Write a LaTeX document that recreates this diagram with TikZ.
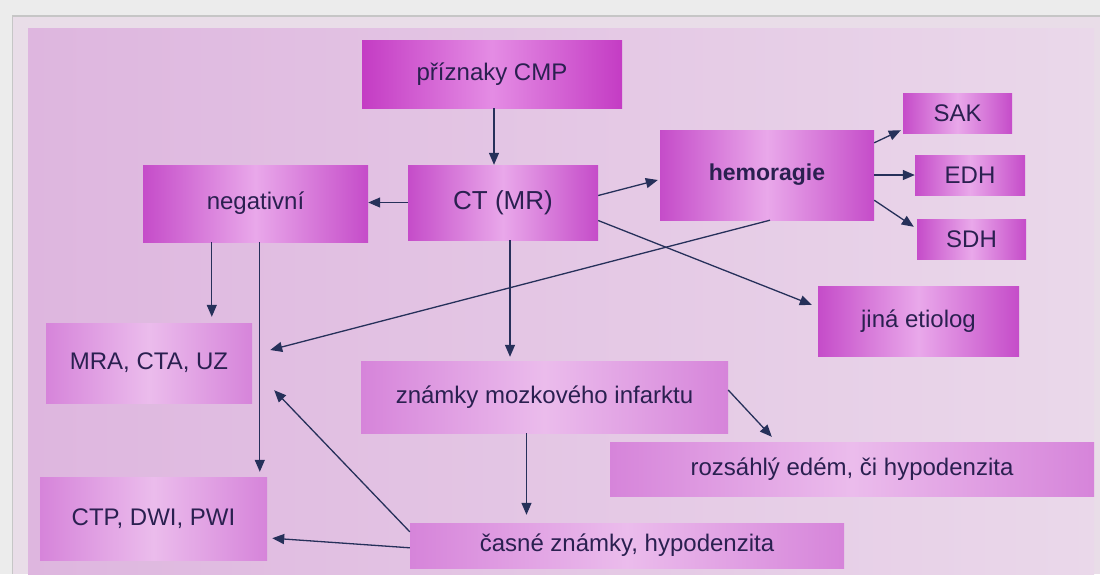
\documentclass[tikz,border=0pt]{standalone}
\usepackage{fontspec}
\setmainfont{Liberation Sans}
\usetikzlibrary{arrows.meta,calc}
\definecolor{txt}{HTML}{2A2050}
\definecolor{arr}{HTML}{26305A}
\definecolor{bdark}{HTML}{C54CC9}
\definecolor{blight}{HTML}{E9A8EA}
\definecolor{pdark}{HTML}{D684DA}
\definecolor{plight}{HTML}{EBBCEC}
\definecolor{cdark}{HTML}{C43CC4}
\definecolor{clight}{HTML}{E48CE4}
\definecolor{scr}{HTML}{E9DDE8}
\definecolor{bgl}{HTML}{DEB6DF}
\definecolor{bgr}{HTML}{EAD8EA}
\tikzset{
  box/.style={draw=none, rectangle, inner sep=0pt, text=txt,
    left color=bdark, right color=bdark, middle color=blight,
    font=\fontsize{24}{28}\selectfont},
  palebox/.style={box, left color=pdark, right color=pdark, middle color=plight},
  conn/.style={draw=arr, line width=1.3pt, -{Triangle[length=12pt,width=10pt]}},
}
\begin{document}
\begin{tikzpicture}[x=1pt,y=-1pt]
\useasboundingbox (0,0) rectangle (1100,574);
\fill[gray!15] (0,0) rectangle (1100,574);
\fill[gray!45] (12,15) rectangle (1100,574);
\fill[scr] (13,17) rectangle (1100,574);
\shade[left color=bgl, right color=bgr] (28,28) rectangle (1094,574);

\node[box, minimum width=260, minimum height=68, left color=cdark, right color=cdark, middle color=clight] (cmp) at (492,74) {příznaky CMP};
\node[box, minimum width=190, minimum height=75, font=\fontsize{26}{30}\selectfont] (ct) at (503,202.5) {CT (MR)};
\node[box, minimum width=225, minimum height=77] (neg) at (255.5,203.5) {negativní};
\node[box, minimum width=214, minimum height=90, font=\fontsize{23}{28}\selectfont\bfseries] (hem) at (767,175) {hemoragie};
\node[box, minimum width=109, minimum height=40] (sak) at (957.5,113) {SAK};
\node[box, minimum width=110, minimum height=40] (edh) at (970,175) {EDH};
\node[box, minimum width=109, minimum height=40] (sdh) at (971.5,239) {SDH};
\node[box, minimum width=201, minimum height=70] (jina) at (918.5,321) {jiná etiolog};
\node[palebox, minimum width=206, minimum height=80] (mra) at (149,363) {MRA, CTA, UZ};
\node[palebox, minimum width=227, minimum height=83] (ctp) at (153.5,518.5) {CTP, DWI, PWI};
\node[palebox, minimum width=367, minimum height=72] (znam) at (544.5,397) {známky mozkového infarktu};
\node[palebox, minimum width=484, minimum height=54] (roz) at (852,469) {rozsáhlý edém, či hypodenzita};
\node[palebox, minimum width=434, minimum height=45] (cas) at (627,545.5) {časné známky, hypodenzita};

\coordinate (cmpS) at ($(cmp.south)+(2,0)$);
\coordinate (negA) at ($(neg.south west)+(69,0)$);
\coordinate (negB) at ($(neg.south west)+(117,0)$);
\coordinate (ctS) at ($(ct.south)+(7,0)$);
\coordinate (znS) at ($(znam.south)+(-18,0)$);

\draw[conn] (cmpS) -- (cmpS |- ct.north);
\draw[conn] (ct.west) -- (ct.west -| neg.east);
\draw[conn] ($(ct.east)+(0,-7)$) -- ($(hem.west)+(-2,5)$);
\draw[conn] ($(hem.north east)+(0,13)$) -- ($(sak.south west)+(-2,-3)$);
\draw[conn] (hem.east) -- (edh.west);
\draw[conn] ($(hem.south east)+(0,-20)$) -- ($(sdh.north west)+(-3,8)$);
\draw[conn] ($(ct.east)+(0,18)$) -- ($(jina.north west)+(-6,19)$);
\draw[conn] ($(hem.south)+(3,0)$) -- ($(mra.east)+(18,-13)$);
\draw[conn, shorten >=6pt] (negA) -- (negA |- mra.north);
\draw[conn, shorten >=5pt] (negB) -- (negB |- ctp.north);
\draw[conn, shorten >=4pt] (ctS) -- (ctS |- znam.north);
\draw[conn] ($(znam.east)+(0,-7)$) -- ($(roz.north west)+(162,-5)$);
\draw[conn, shorten >=8pt] (znS) -- (znS |- cas.north);
\draw[conn] ($(cas.north west)+(0,9)$) -- ($(mra.south east)+(22,-13)$);
\draw[conn] ($(cas.north west)+(0,25)$) -- ($(ctp.south east)+(5,-22)$);
\end{tikzpicture}
\end{document}
